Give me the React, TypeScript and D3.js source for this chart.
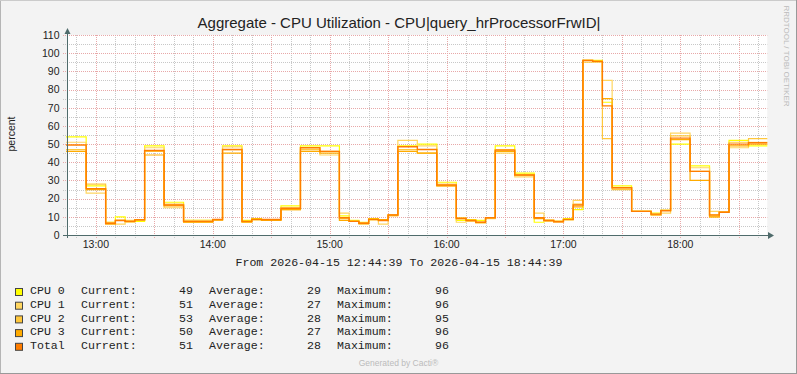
import React from "react";
import * as d3 from "d3";

const W = 797;
const H = 374;

const seriesNames = ["CPU 0", "CPU 1", "CPU 2", "CPU 3", "Total"];
const seriesColors = ["#FFFF00", "#FFD660", "#FFC73B", "#FFAB00", "#FF7D00"];
const legendCurrent = [49, 51, 53, 50, 51];
const legendAverage = [29, 27, 28, 27, 28];
const legendMaximum = [96, 96, 95, 96, 96];

// 5-minute samples starting 12:45
const cpu0 = [54, 54, 27, 27, 7, 10, 7.5, 7.5, 49, 49, 18, 18, 8, 8, 8, 8.5, 49, 49, 8, 9, 8.5, 8.5, 16, 16,
  49, 49, 49, 49, 10.5, 8, 7, 9, 8, 11, 49, 49, 50, 50, 29, 29, 8, 8.5, 8, 9.5, 49, 49, 34, 34,
  7, 8, 7.5, 9, 14, 96, 96, 73, 27, 27, 13, 13, 12, 13.5, 50, 50, 38, 38, 11, 12.5, 52, 52, 49, 49];
const cpu1 = [51, 51, 23, 23, 7, 6, 8, 8, 48, 48, 15, 15, 8, 8, 8, 8.5, 48.5, 48.5, 7, 8.5, 8.5, 8.5, 15, 15,
  48, 48, 44, 44, 12, 7.5, 6.5, 8.5, 6, 11, 52, 52, 49, 49, 28, 28, 7, 7.5, 6.5, 9, 45, 45, 32, 32,
  12, 7.5, 7, 8.5, 19, 96, 95.5, 85, 26, 26, 13, 13, 11.5, 12, 56, 56, 37, 37, 13, 12.5, 48, 48, 51, 51];
const cpu2 = [47, 47, 28, 28, 6.5, 8, 7, 8.5, 46, 46, 17, 17, 7, 7, 7, 8, 47, 47, 7.5, 8.5, 8.5, 8.5, 14, 14,
  47, 47, 46, 46, 9, 7.5, 6, 8.5, 8, 10.5, 47, 47, 45, 45, 27, 27, 9, 8, 7, 9.5, 47, 47, 33, 33,
  9.5, 8, 7.5, 8.5, 17, 95, 95, 53, 25, 25, 13, 13, 11, 13.5, 54.5, 54.5, 35, 35, 10, 12.8, 51, 51, 53, 53];
const cpu3 = [46, 46, 25, 25, 6, 8, 7.5, 8.5, 44, 44, 16, 16, 7, 7, 7, 8.5, 45, 45, 7, 8.5, 8, 8, 14, 14,
  46, 46, 45, 45, 8, 7.5, 6.5, 8.5, 8.5, 11, 46, 46, 45, 45, 27, 27, 9.5, 8, 7, 9.5, 46, 46, 33, 33,
  9, 8, 7.5, 8.5, 15.5, 96, 95.5, 75, 26, 26, 13, 13, 11, 13.5, 52.5, 52.5, 30, 30, 10, 12.5, 49, 49, 50, 50];
const total = [49.5, 49.5, 25.5, 25.5, 6.5, 8, 7.5, 8.3, 46.5, 46.5, 16.5, 16.5, 7.5, 7.5, 7.5, 8.5, 47, 47, 7.5, 8.7, 8.5, 8.5, 14.7, 14.7,
  48, 48, 46, 46, 9.5, 7.5, 6.5, 8.7, 8, 11, 48.5, 48.5, 47, 47, 27.5, 27.5, 9, 8, 7, 9.5, 46.7, 46.7, 33, 33,
  9.5, 8, 7.3, 8.6, 16.5, 96, 95.5, 71, 26, 26, 13, 13, 11.5, 13.3, 53.3, 53.3, 35, 35, 11, 12.5, 50, 50, 50.7, 50.7];
const seriesValues = [cpu0, cpu1, cpu2, cpu3, total];

const yTicks = [0, 10, 20, 30, 40, 50, 60, 70, 80, 90, 100, 110];
const xTickLabels = ["13:00", "14:00", "15:00", "16:00", "17:00", "18:00"];

const rangeStart = new Date(2026, 3, 15, 12, 44, 39);
const rangeEnd = new Date(2026, 3, 15, 18, 44, 39);
const firstSample = new Date(2026, 3, 15, 12, 45, 0);
const stepMs = 5 * 60 * 1000;

const PL = 66;
const PR = 767.3;
const PT = 35;
const PB = 235;

export default function App() {
  const x = d3.scaleTime().domain([rangeStart, rangeEnd]).range([PL, PR]);
  const y = d3.scaleLinear().domain([0, 110]).range([PB, PT]);

  const times = cpu0.map((_, i) => new Date(firstSample.getTime() + i * stepMs));

  const line = d3
    .line<[Date, number]>()
    .x((d) => x(d[0]))
    .y((d) => y(d[1]))
    .curve(d3.curveStepAfter);

  const paths = seriesValues.map((vals) => {
    const pts: [Date, number][] = [[rangeStart, vals[0]]];
    vals.forEach((v, i) => pts.push([times[i], v]));
    pts.push([rangeEnd, vals[vals.length - 1]]);
    return line(pts) || "";
  });

  const minorX = d3.timeMinute.every(10)!.range(rangeStart, rangeEnd);
  const hourTicks = d3.timeHour.every(1)!.range(rangeStart, rangeEnd);
  const minorY = d3.range(5, 110, 10);

  const mono = "'Liberation Mono', 'DejaVu Sans Mono', monospace";
  const sans = "'Liberation Sans', Arial, sans-serif";
  const axisColor = "#4F6B6B";
  const textColor = "#222";

  return (
    <svg width={W} height={H} viewBox={`0 0 ${W} ${H}`} style={{ display: "block", position: "absolute", left: 0, top: 0 }}>
      <rect x={0} y={0} width={W} height={H} fill="#F3F3F3" />
      <line x1={0.5} y1={0.5} x2={W - 0.5} y2={0.5} stroke="#CBCBCB" />
      <line x1={0.5} y1={0.5} x2={0.5} y2={H - 0.5} stroke="#B5B5B5" />
      <line x1={0} y1={H - 0.5} x2={W} y2={H - 0.5} stroke="#999" />
      <line x1={W - 0.5} y1={0} x2={W - 0.5} y2={H} stroke="#999" />

      <rect x={67} y={PT} width={PR - 67} height={PB - PT} fill="#FFFFFF" />

      {/* minor horizontal grid */}
      {minorY.map((v) => (
        <line key={"my" + v} x1={63} x2={PR} y1={Math.round(y(v)) + 0.5} y2={Math.round(y(v)) + 0.5}
          stroke="#C8C8C8" strokeDasharray="1,1" />
      ))}
      {/* minor vertical grid */}
      {minorX.map((t) => (
        <line key={"mx" + t.getTime()} x1={Math.round(x(t)) + 0.5} x2={Math.round(x(t)) + 0.5} y1={PT} y2={PB + 3}
          stroke={t.getMinutes() % 30 === 0 ? "#E8A8A8" : "#C8C8C8"} strokeDasharray="1,1" />
      ))}
      {/* major horizontal grid */}
      {yTicks.map((v) => (
        <line key={"y" + v} x1={63} x2={PR} y1={Math.round(y(v)) + 0.5} y2={Math.round(y(v)) + 0.5}
          stroke="#E8A8A8" strokeDasharray="1,1" />
      ))}

      {/* series */}
      {paths.map((p, i) => (
        <path key={seriesNames[i]} d={p} fill="none" stroke={seriesColors[i]} strokeWidth={i === 4 ? 1.4 : 1.2} />
      ))}

      {/* axes */}
      <line x1={67.5} y1={PB + 3} x2={67.5} y2={31} stroke={axisColor} />
      <path d={`M64.5,34 L70.5,34 L67.5,28 Z`} fill={axisColor} />
      <line x1={63} y1={PB + 0.5} x2={770} y2={PB + 0.5} stroke={axisColor} />
      <path d={`M768,232 L768,239 L774,235.5 Z`} fill={axisColor} />

      {/* y tick labels */}
      {yTicks.map((v) => (
        <text key={"yl" + v} x={59.5} y={y(v) + 3.8} textAnchor="end" fontFamily={sans} fontSize={10.5} fill={textColor}>
          {v}
        </text>
      ))}
      {/* x tick labels */}
      {hourTicks.map((t, i) => (
        <text key={"xl" + i} x={x(t)} y={248} textAnchor="middle" fontFamily={sans} fontSize={10.5} fill={textColor}>
          {xTickLabels[i]}
        </text>
      ))}

      <text x={399} y={28.3} textAnchor="middle" fontFamily={sans} fontSize={15} fill={textColor}>
        Aggregate - CPU Utilization - CPU|query_hrProcessorFrwID|
      </text>
      <text transform="translate(15,134) rotate(-90)" textAnchor="middle" fontFamily={sans} fontSize={10.5} fill={textColor}>
        percent
      </text>
      <text transform="translate(784,56) rotate(90)" textAnchor="middle" fontFamily={sans} fontSize={8} fill="#BBBBBB">
        RRDTOOL / TOBI OETIKER
      </text>

      <text x={399} y={266} textAnchor="middle" fontFamily={mono} fontSize={11.6} fill={textColor} xmlSpace="preserve">
        From 2026-04-15 12:44:39 To 2026-04-15 18:44:39
      </text>

      {seriesNames.map((name, i) => {
        const by = 294.3 + i * 13.7;
        return (
          <g key={"lg" + i} fontFamily={mono} fontSize={11.6} fill={textColor}>
            <rect x={15.5} y={by - 5.8} width={7} height={7} fill={seriesColors[i]} stroke="#444" />
            <text x={30} y={by} xmlSpace="preserve">{name}</text>
            <text x={81} y={by}>Current:</text>
            <text x={193} y={by} textAnchor="end">{legendCurrent[i]}</text>
            <text x={209} y={by}>Average:</text>
            <text x={321} y={by} textAnchor="end">{legendAverage[i]}</text>
            <text x={337} y={by}>Maximum:</text>
            <text x={449} y={by} textAnchor="end">{legendMaximum[i]}</text>
          </g>
        );
      })}

      <text x={398.5} y={366} textAnchor="middle" fontFamily={sans} fontSize={8.5} fill="#BBBBBB">
        Generated by Cacti®
      </text>
    </svg>
  );
}
